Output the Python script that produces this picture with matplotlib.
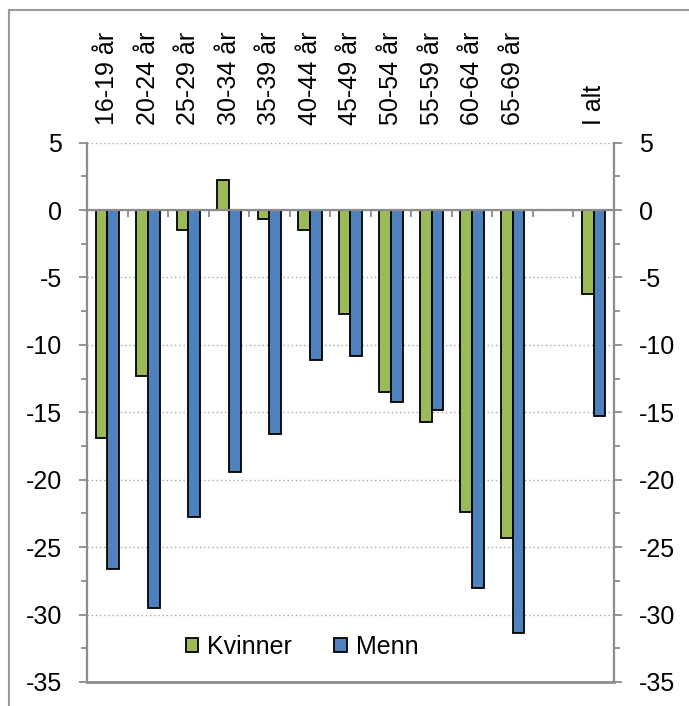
import numpy as np
import matplotlib
matplotlib.use("Agg")
import matplotlib.pyplot as plt
from matplotlib.lines import Line2D
from matplotlib.ticker import MultipleLocator, FixedLocator

# data
categories = ["16-19 år", "20-24 år", "25-29 år", "30-34 år", "35-39 år", "40-44 år",
              "45-49 år", "50-54 år", "55-59 år", "60-64 år", "65-69 år", "", "I alt"]
kvinner = [-16.9, -12.3, -1.5, 2.2, -0.7, -1.5, -7.7, -13.5, -15.7, -22.4, -24.3, np.nan, -6.2]
menn = [-26.6, -29.5, -22.8, -19.4, -16.6, -11.1, -10.8, -14.2, -14.8, -28.0, -31.4, np.nan, -15.3]

green = "#9BBB59"
blue = "#4F81BD"
grey = "#8C8C8C"

plt.rcParams["font.family"] = ["Liberation Sans", "DejaVu Sans"]
plt.rcParams["font.size"] = 18
plt.rcParams["axes.unicode_minus"] = False

fig = plt.figure(figsize=(6.89, 7.06), dpi=100)
ax = fig.add_axes([0.1263, 0.034, 0.891 - 0.1263, 0.798 - 0.034])

x = np.arange(len(categories))
w = 0.29
ax.bar(x - w / 2, kvinner, w, color=green, edgecolor="black", linewidth=1.3,
       label="Kvinner", zorder=3)
ax.bar(x + w / 2, menn, w, color=blue, edgecolor="black", linewidth=1.3,
       label="Menn", zorder=3)

ax.set_xlim(-0.5, len(categories) - 0.5)
ax.set_ylim(-35, 5)

# y axis on both sides
ax.yaxis.set_major_locator(MultipleLocator(5))
ax.yaxis.set_minor_locator(MultipleLocator(2.5))
ax.tick_params(axis="y", which="both", left=True, right=True, labelleft=True,
               labelright=True, color=grey, width=1.3, direction="out")
ax.tick_params(axis="y", which="major", length=5.5, pad=12.5, labelsize=18)
ax.tick_params(axis="y", which="minor", length=4.3)
ax.grid(axis="y", which="major", linestyle=(0, (1, 2)), color="#A6A6A6",
        linewidth=1.0, zorder=0)

# x labels on top, tick marks on the zero line
ax.set_xticks(x)
ax.set_xticklabels(categories)
ax.tick_params(axis="x", which="major", bottom=False, top=False,
               labelbottom=False, labeltop=True, pad=9.5, labelsize=18,
               labelrotation=90)
ax.xaxis.set_minor_locator(FixedLocator(np.arange(len(categories) + 1) - 0.5))
ax.tick_params(axis="x", which="minor", bottom=True, top=False, length=5,
               width=1.3, color=grey, direction="out")

ax.spines["bottom"].set_position(("data", 0))
ax.spines["top"].set_visible(False)
for s in ["bottom", "left", "right"]:
    ax.spines[s].set_color(grey)
    ax.spines[s].set_linewidth(1.6)
ax.spines["bottom"].set_zorder(4)
ax.axhline(-35, color=grey, linewidth=2.0, zorder=4, clip_on=False)

ax.legend(loc="center", bbox_to_anchor=(0.408, 0.065), ncol=2, frameon=False,
          handlelength=0.5, handleheight=0.5, handletextpad=0.35,
          columnspacing=1.7, fontsize=18, borderpad=0)

# outer frame of the chart area
fig.add_artist(Line2D([9 / 689, 1], [1 - 10 / 706, 1 - 10 / 706], color="#9A9A9A",
                      linewidth=1.5, transform=fig.transFigure))
fig.add_artist(Line2D([9 / 689, 9 / 689], [0, 1 - 10 / 706], color="#9A9A9A",
                      linewidth=1.5, transform=fig.transFigure))

fig.savefig("out.png", dpi=100)
